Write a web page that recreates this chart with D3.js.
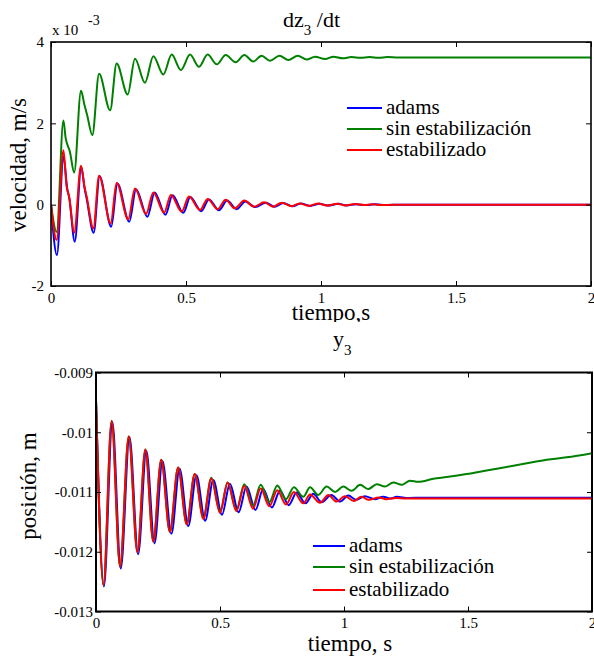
<!DOCTYPE html>
<html>
<head>
<meta charset="utf-8">
<script src="https://cdn.jsdelivr.net/npm/d3@7"></script>
<style>
svg text{font-family:"Liberation Serif",serif;}
</style>
</head>
<body style="margin:0;background:#fff">
<svg id="fig" width="594" height="659"></svg>
<script>
// ticks of both panels
var xTicks = [0, 0.5, 1, 1.5, 2];
var yTicksTop = [-2, 0, 2, 4];//x 10^-3
var yTicksBottom = [-0.013, -0.012, -0.011, -0.01, -0.009];
var seriesNames = ["adams", "sin estabilización", "estabilizado"];
var seriesColors = ["#0000ff", "#008000", "#ff0000"];

// dz3/dt, [tiempo s, velocidad x10^-3 m/s], extrema
var adamsTop = [[0,0],[0.022,-1.24],[0.046,1.18],[0.060,0.40],[0.068,0.15],[0.088,-0.91],[0.112,0.93],[0.124,0.42],[0.132,0.15],[0.158,-0.69],[0.180,0.70],[0.223,-0.54],[0.246,0.52],[0.290,-0.42],[0.315,0.38],[0.357,-0.30],[0.384,0.30],[0.424,-0.25],[0.450,0.23],[0.490,-0.20],[0.516,0.19],[0.556,-0.16],[0.585,0.13],[0.622,-0.14],[0.652,0.10],[0.688,-0.11],[0.720,0.08],[0.757,-0.06],[0.795,0.05],[0.828,-0.05],[0.860,0.04],[0.895,-0.04],[0.925,0.03],[0.960,-0.03],[0.995,0.02],[1.025,-0.02],[1.065,0.02],[1.095,-0.02],[1.130,0.01],[1.165,-0.01],[1.200,0.01],[1.240,-0.01],[1.300,0],[2.0,0]];
var sinTop = [[0,0],[0.021,-0.67],[0.046,2.07],[0.054,1.65],[0.070,1.30],[0.086,0.79],[0.111,2.80],[0.124,2.45],[0.134,2.20],[0.153,1.71],[0.178,3.22],[0.219,2.32],[0.243,3.47],[0.284,2.71],[0.311,3.59],[0.348,3.00],[0.379,3.65],[0.416,3.20],[0.447,3.69],[0.481,3.31],[0.515,3.69],[0.548,3.39],[0.580,3.69],[0.614,3.45],[0.647,3.68],[0.684,3.50],[0.716,3.68],[0.749,3.52],[0.780,3.66],[0.811,3.54],[0.846,3.66],[0.879,3.56],[0.914,3.66],[0.947,3.57],[0.978,3.64],[1.015,3.58],[1.046,3.64],[1.080,3.60],[1.113,3.63],[1.146,3.61],[1.180,3.63],[1.213,3.61],[1.246,3.63],[1.285,3.62],[1.350,3.62],[2.0,3.62]];
var estTop = [[0,0],[0.021,-0.87],[0.046,1.34],[0.058,0.44],[0.067,0.20],[0.086,-0.69],[0.111,0.96],[0.124,0.44],[0.132,0.20],[0.157,-0.58],[0.178,0.71],[0.221,-0.46],[0.243,0.53],[0.286,-0.36],[0.311,0.40],[0.352,-0.23],[0.379,0.30],[0.419,-0.20],[0.444,0.24],[0.484,-0.17],[0.511,0.20],[0.552,-0.13],[0.580,0.14],[0.617,-0.11],[0.647,0.12],[0.681,-0.09],[0.716,0.10],[0.752,-0.05],[0.790,0.06],[0.822,-0.05],[0.855,0.05],[0.890,-0.04],[0.920,0.03],[0.955,-0.03],[0.990,0.03],[1.020,-0.02],[1.060,0.02],[1.090,-0.02],[1.125,0.015],[1.160,-0.01],[1.190,0.01],[1.230,-0.01],[1.300,0],[2.0,0]];

// y3, [tiempo s, posicion m]
var adamsBottom = [[0,-0.00946],[0.032,-0.01258],[0.066,-0.00983],[0.100,-0.01228],[0.135,-0.01008],[0.170,-0.01204],[0.203,-0.01031],[0.236,-0.01186],[0.268,-0.01048],[0.304,-0.01170],[0.337,-0.01061],[0.372,-0.01157],[0.405,-0.01072],[0.440,-0.01148],[0.473,-0.01080],[0.508,-0.01138],[0.540,-0.01086],[0.575,-0.01134],[0.607,-0.01091],[0.643,-0.01130],[0.674,-0.01095],[0.709,-0.01126],[0.742,-0.01098],[0.777,-0.01122],[0.809,-0.01101],[0.845,-0.01119],[0.876,-0.01103],[0.910,-0.01117],[0.949,-0.01105],[0.984,-0.01116],[1.017,-0.01106],[1.050,-0.01113],[1.084,-0.01107],[1.124,-0.01112],[1.158,-0.01108],[1.190,-0.01111],[1.212,-0.01108],[1.260,-0.01110],[1.320,-0.011095],[2.0,-0.011095]];
var sinBottom = [[0,-0.00946],[0.030,-0.01256],[0.063,-0.00981],[0.097,-0.01225],[0.132,-0.01007],[0.167,-0.01201],[0.199,-0.01029],[0.231,-0.01183],[0.263,-0.01046],[0.298,-0.01167],[0.331,-0.01059],[0.366,-0.01154],[0.398,-0.01070],[0.433,-0.01143],[0.465,-0.01076],[0.500,-0.01133],[0.531,-0.01084],[0.566,-0.01130],[0.598,-0.01087],[0.633,-0.01123],[0.664,-0.01088],[0.699,-0.01117],[0.731,-0.01089],[0.766,-0.01112],[0.798,-0.01092],[0.836,-0.01108],[0.863,-0.01092],[0.896,-0.01105],[0.930,-0.01091],[0.964,-0.01100],[0.997,-0.01091],[1.031,-0.01098],[1.065,-0.01088],[1.098,-0.01095],[1.132,-0.01087],[1.165,-0.01091],[1.199,-0.01084],[1.233,-0.01088],[1.266,-0.01081],[1.299,-0.01083],[1.360,-0.01078],[1.414,-0.01075],[1.494,-0.01070],[1.575,-0.01064],[1.656,-0.01058],[1.737,-0.01052],[1.817,-0.01046],[1.898,-0.01042],[2.0,-0.01035]];
var estBottom = [[0,-0.00946],[0.030,-0.01256],[0.063,-0.00981],[0.097,-0.01225],[0.132,-0.01007],[0.167,-0.01201],[0.199,-0.01029],[0.231,-0.01183],[0.263,-0.01046],[0.298,-0.01167],[0.331,-0.01059],[0.366,-0.01154],[0.398,-0.01070],[0.433,-0.01145],[0.465,-0.01078],[0.500,-0.01135],[0.531,-0.01084],[0.566,-0.01132],[0.598,-0.01090],[0.633,-0.01128],[0.664,-0.01094],[0.699,-0.01124],[0.731,-0.01097],[0.766,-0.01121],[0.798,-0.01100],[0.836,-0.01119],[0.863,-0.01104],[0.903,-0.01118],[0.937,-0.01105],[0.970,-0.01116],[1.003,-0.01107],[1.040,-0.01115],[1.070,-0.01108],[1.100,-0.01113],[1.140,-0.01109],[1.170,-0.01112],[1.210,-0.01110],[1.250,-0.01111],[1.300,-0.01111],[2.0,-0.01111]];

var FONT = "Liberation Serif";
var svg = d3.select("#fig");
svg.append("rect").attr("width", 594).attr("height", 659).attr("fill", "#fff");

function fmt(d) { return String(+d.toFixed(3)); }

function label(x, y, size, txt) {
	return svg.append("text")
	.attr("x", x).attr("y", y)
	.attr("font-size", size)
	.style("font-family", FONT)
	.text(txt);
}

function drawPanel(p) {
	var x = d3.scaleLinear().domain([0, 2]).range([0, p.w]);
	var y = d3.scaleLinear().domain(p.yDomain).range([p.h, 0]);
	var g = svg.append("g").attr("transform", "translate(" + p.left + "," + p.top + ")");

	g.append("clipPath").attr("id", p.id + "clip")
	.append("rect").attr("width", p.w).attr("height", p.h);

	var line = d3.line()
	.x(function(d) { return x(d[0]); })
	.y(function(d) { return y(d[1]); })
	.curve(d3.curveMonotoneX);

	//adams, sin estabilizacion, estabilizado (red on top)
	g.append("g").attr("clip-path", "url(#" + p.id + "clip)")
	.selectAll("path")
	.data(p.series)
	.enter().append("path")
	.attr("d", line)
	.attr("fill", "none")
	.attr("stroke", function(d, i) { return seriesColors[i]; })
	.attr("stroke-width", 2)
	.attr("stroke-linejoin", "round");

	//axes, ticks pointing inward on all four sides
	var ax = [
		d3.axisBottom(x).tickValues(xTicks).tickFormat(fmt),
		d3.axisTop(x).tickValues(xTicks).tickFormat(""),
		d3.axisLeft(y).tickValues(p.yTicks).tickFormat(fmt),
		d3.axisRight(y).tickValues(p.yTicks).tickFormat("")
	];
	var pos = ["translate(0," + p.h + ")", null, null, "translate(" + p.w + ",0)"];
	ax.forEach(function(a, i) {
		a.tickSizeInner(-5).tickSizeOuter(0).tickPadding(i == 2 ? p.yPad : 6);
		var ag = g.append("g").attr("transform", pos[i]).call(a);
		ag.attr("font-family", FONT);
		ag.select(".domain").remove();
		ag.selectAll("line").attr("stroke", "#000").attr("stroke-width", 1);
		ag.selectAll("text")
		.attr("fill", "#000")
		.attr("font-size", 15)
		.style("font-family", FONT);
	});

	g.append("rect")
	.attr("width", p.w)
	.attr("height", p.h)
	.attr("fill", "none")
	.attr("stroke", "#000")
	.attr("stroke-width", p.frame);

	//legend
	var leg = svg.append("g")
	.selectAll("g")
	.data(seriesNames)
	.enter().append("g")
	.attr("transform", function(d, i) { return "translate(" + p.legX + "," + p.legY[i] + ")"; });

	leg.append("line")
	.attr("x1", 0).attr("x2", p.legLen)
	.attr("stroke", function(d, i) { return seriesColors[i]; })
	.attr("stroke-width", 2);

	leg.append("text")
	.attr("x", p.legLen + 4)
	.attr("y", 6)
	.attr("font-size", 21)
	.style("font-family", FONT)
	.text(function(d) { return d; });
}

// top panel labels
var t1 = label(283, 27, 22, null);
t1.append("tspan").text("dz");
t1.append("tspan").attr("dy", 8).attr("font-size", 15).text("3");
t1.append("tspan").attr("dy", -8).text(" /dt");

label(52, 35, 15, "x 10");
label(88, 25, 14, "-3");

label(0, 0, 23, "velocidad, m/s")
.attr("transform", "translate(26,165) rotate(-90)")
.attr("text-anchor", "middle");

label(331, 320, 23, "tiempo,s").attr("text-anchor", "middle");

drawPanel({id: "top", left: 51, top: 42, w: 540, h: 244, yDomain: [-2, 4], yTicks: yTicksTop, yPad: 7,
	series: [adamsTop, sinTop, estTop], frame: 1.6, legX: 347, legY: [108, 129, 150], legLen: 35});

// the lower figure covers the bottom of the first x label
svg.append("rect").attr("x", 0).attr("y", 322).attr("width", 594).attr("height", 48).attr("fill", "#fff");

var t2 = label(333, 346, 22, null);
t2.append("tspan").text("y");
t2.append("tspan").attr("dy", 9).attr("font-size", 15).text("3");

label(0, 0, 23, "posición, m")
.attr("transform", "translate(36,486) rotate(-90)")
.attr("text-anchor", "middle");

label(350, 651, 23, "tiempo, s").attr("text-anchor", "middle");

drawPanel({id: "bot", left: 96, top: 372.5, w: 496, h: 239, yDomain: [-0.013, -0.009], yTicks: yTicksBottom, yPad: 3,
	series: [adamsBottom, sinBottom, estBottom], frame: 2, legX: 313, legY: [546, 567, 590], legLen: 32});

// force text layout so the serif face is picked up before the snapshot
svg.selectAll("text").each(function() { this.getComputedTextLength(); });
</script>
</body>
</html>
